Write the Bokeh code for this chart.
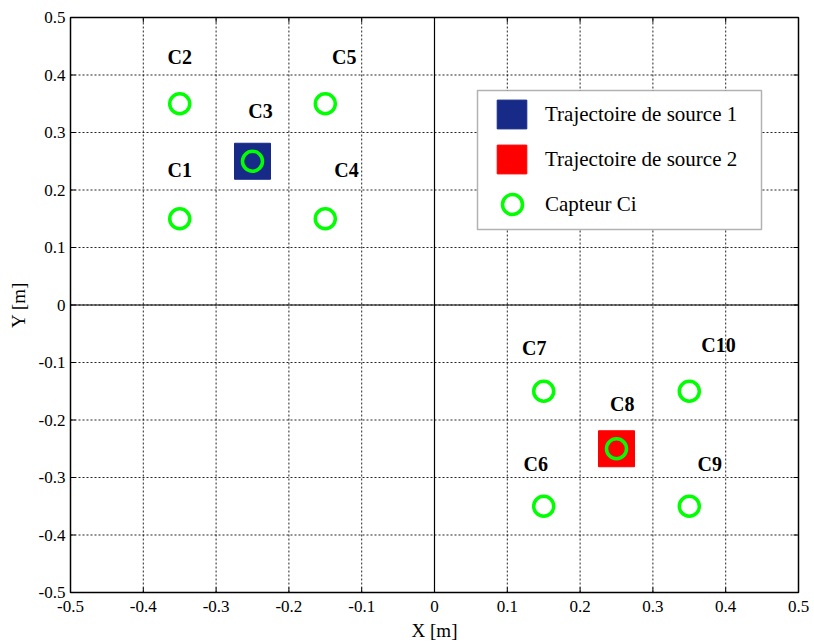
import math
from bokeh.plotting import figure
from bokeh.models import (Range1d, Legend, LegendItem, BoxAnnotation, ColumnDataSource)
from bokeh.core.properties import value
from bokeh.embed import file_html
from bokeh.resources import INLINE

# ---- data ----
sensor_names = ["C1", "C2", "C3", "C4", "C5", "C6", "C7", "C8", "C9", "C10"]
sensor_x = [-0.35, -0.35, -0.25, -0.15, -0.15, 0.15, 0.15, 0.25, 0.35, 0.35]
sensor_y = [0.15, 0.35, 0.25, 0.15, 0.35, -0.35, -0.15, -0.25, -0.35, -0.15]
label_x = [-0.35, -0.35, -0.239, -0.121, -0.124, 0.139, 0.137, 0.258, 0.378, 0.390]
label_y = [0.234, 0.432, 0.338, 0.234, 0.432, -0.276, -0.074, -0.173, -0.276, -0.070]

source_names = ["Trajectoire de source 1", "Trajectoire de source 2"]
source_x = [-0.25, 0.25]
source_y = [0.25, -0.25]
source_colors = ["#172A88", "#FF0000"]

sensor_legend = "Capteur Ci"
tick_values = [-0.5, -0.4, -0.3, -0.2, -0.1, 0, 0.1, 0.2, 0.3, 0.4, 0.5]
tick_labels = ["-0.5", "-0.4", "-0.3", "-0.2", "-0.1", "0", "0.1", "0.2", "0.3", "0.4", "0.5"]
x_title = "X [m]"
y_title = "Y [m]"

SERIF = "Liberation Serif"

# ---- layout (pixels) ----
W, H = 814, 643
AX_L, AX_R, AX_T, AX_B = 70, 798, 17, 592          # axes box in canvas pixels
lo, hi = tick_values[0], tick_values[-1]
ppx = (AX_R - AX_L) / (hi - lo)
ppy = (AX_B - AX_T) / (hi - lo)
x_range = Range1d(lo - AX_L / ppx, hi + (W - AX_R) / ppx)
y_range = Range1d(lo - (H - AX_B) / ppy, hi + AX_T / ppy)

p = figure(width=W, height=H, output_backend="svg", toolbar_location=None,
           x_range=x_range, y_range=y_range, x_axis_type=None, y_axis_type=None,
           min_border=0, min_border_left=0, min_border_right=0,
           min_border_top=0, min_border_bottom=0)
p.background_fill_color = "white"
p.border_fill_color = "white"
p.outline_line_color = None
p.grid.visible = False

n = len(tick_values)
inner = tick_values[1:-1]
m = len(inner)

# dotted grid inside the axes box
p.segment(x0=inner, y0=[lo] * m, x1=inner, y1=[hi] * m, line_color="black",
          line_dash="2 2", line_width=1, line_alpha=0.85)
p.segment(x0=[lo] * m, y0=inner, x1=[hi] * m, y1=inner, line_color="black",
          line_dash="2 2", line_width=1, line_alpha=0.85)

# solid zero lines
p.segment(x0=[0, lo], y0=[lo, 0], x1=[0, hi], y1=[hi, 0], line_color="black", line_width=1.2)

# inward tick marks on all four sides
p.ray(x=tick_values, y=[lo] * n, length=5, length_units="screen", angle=math.pi / 2,
      line_color="black", line_width=1)
p.ray(x=tick_values, y=[hi] * n, length=5, length_units="screen", angle=-math.pi / 2,
      line_color="black", line_width=1)
p.ray(x=[lo] * n, y=tick_values, length=5, length_units="screen", angle=0,
      line_color="black", line_width=1)
p.ray(x=[hi] * n, y=tick_values, length=5, length_units="screen", angle=math.pi,
      line_color="black", line_width=1)

# axes box
p.quad(left=[lo], right=[hi], bottom=[lo], top=[hi], fill_color=None,
       line_color="black", line_width=1.5)

# tick labels
p.text(x=tick_values, y=[lo] * n, text=tick_labels, y_offset=8,
       text_font=value(SERIF), text_font_size="17px", text_color="black",
       text_align="center", text_baseline="top")
p.text(x=[lo] * n, y=tick_values, text=tick_labels, x_offset=-5,
       text_font=value(SERIF), text_font_size="17px", text_color="black",
       text_align="right", text_baseline="middle")

# axis titles
p.text(x=[(lo + hi) / 2], y=[lo], text=[x_title], y_offset=38,
       text_font=value(SERIF), text_font_size="19px", text_color="black",
       text_align="center", text_baseline="middle")
p.text(x=[lo], y=[(lo + hi) / 2], text=[y_title], x_offset=-52, angle=math.pi / 2,
       text_font=value(SERIF), text_font_size="19px", text_color="black",
       text_align="center", text_baseline="middle")

# sources and sensors
src = ColumnDataSource(dict(x=source_x, y=source_y, c=source_colors))
r_src = p.rect(x="x", y="y", width=36, height=36, width_units="screen", height_units="screen",
               fill_color="c", line_color="c", source=src)

r_sens = p.scatter(x=sensor_x, y=sensor_y, size=20, marker="circle", fill_color=None,
                   line_color="#00FF00", line_width=3.5)

p.text(x=label_x, y=label_y, text=sensor_names, text_font=value(SERIF),
       text_font_size="20px", text_font_style="bold", text_align="center",
       text_baseline="middle", text_color="black")

# legend frame (frame-relative screen units, frame == canvas here)
LG_L, LG_R, LG_T, LG_B = 477, 761, 90, 229
box = BoxAnnotation(left=LG_L, right=LG_R, bottom=H - LG_B, top=H - LG_T,
                    left_units="screen", right_units="screen",
                    bottom_units="screen", top_units="screen",
                    fill_color="white", fill_alpha=1.0, line_color="black", line_width=1.5)
p.add_layout(box)

dummy = p.scatter(x=[], y=[], size=1, fill_alpha=0, line_alpha=0)

gx, gy = LG_L + 16, H - LG_B + 7
legA = Legend(items=[LegendItem(label=source_names[0], renderers=[r_src], index=0),
                     LegendItem(label=source_names[1], renderers=[r_src], index=1),
                     LegendItem(label=sensor_legend, renderers=[dummy])],
              location=(gx, gy), glyph_width=37, glyph_height=36, spacing=9, padding=0,
              label_standoff=15, border_line_color=None, background_fill_alpha=0,
              label_text_font=SERIF, label_text_font_size="21px", label_text_color="black")
p.add_layout(legA)

legB = Legend(items=[LegendItem(label="", renderers=[r_sens])],
              location=(gx + 18.5 - 25, gy + 18 - 25), glyph_width=50, glyph_height=50,
              padding=0, label_standoff=0, label_width=0, border_line_color=None,
              background_fill_alpha=0, label_text_font_size="1px")
p.add_layout(legB)

open("out.html", "w").write(file_html(p, INLINE))
